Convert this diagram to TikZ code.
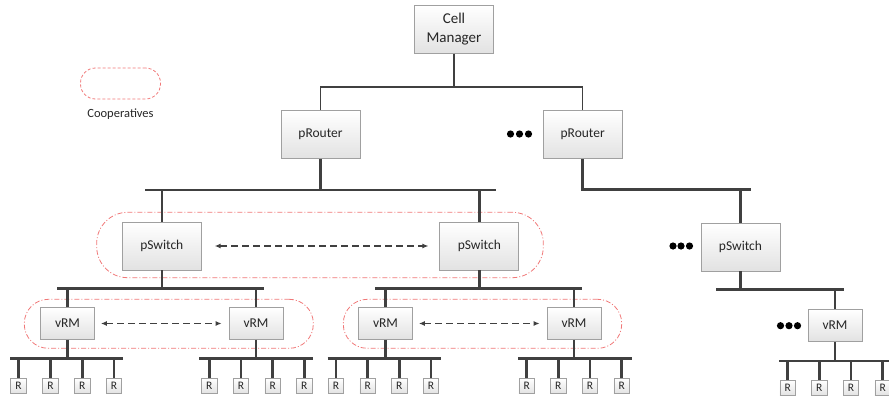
\documentclass[tikz,border=0pt]{standalone}
\usepackage{fontspec}
\setmainfont{Carlito}
\usetikzlibrary{arrows.meta}
\definecolor{linec}{HTML}{404040}
\definecolor{boxb}{HTML}{A0A0A0}
\definecolor{boxlow}{HTML}{E2E2E2}
\definecolor{coopc}{HTML}{F07878}
\tikzset{
  gbox/.style={draw=boxb, line width=0.8pt, top color=white, bottom color=boxlow, inner sep=0pt, font=\fontsize{13.5}{15}\selectfont, text=black!85},
  bigbox/.style={gbox, minimum width=79pt, minimum height=48pt},
  vbox/.style={gbox, minimum width=54pt, minimum height=32pt},
  rbox/.style={gbox, minimum width=15.5pt, minimum height=15.5pt, font=\fontsize{11.5}{12}\selectfont},
  thin/.style={draw=linec, line width=1.3pt},
  thick/.style={draw=linec, line width=2.6pt},
  darr/.style={draw=linec, line width=1.1pt, dash pattern=on 7pt off 4pt, {Latex[length=6pt,width=5pt]}-{Latex[length=6pt,width=5pt]}},
  coop/.style={draw=coopc, line width=0.8pt, dash pattern=on 5pt off 2pt on 1pt off 2pt, inner sep=0pt},
  legcoop/.style={draw=coopc, line width=0.8pt, dash pattern=on 3pt off 2pt, inner sep=0pt},
}
\begin{document}
\begin{tikzpicture}[x=1pt,y=-1pt]
\useasboundingbox (0,0) rectangle (889,399);

% legend
\node[legcoop, rounded corners=15pt, minimum width=80pt, minimum height=31pt] (leg) at (120.5,83.5) {};
\node[font=\fontsize{12.5}{14}\selectfont, text=black!85] (legt) at (120.5,114) {Cooperatives};

% cooperative regions
\node[coop, rounded corners=31pt, minimum width=446.6pt, minimum height=65.4pt] (c1) at (320,245) {};
\node[coop, rounded corners=24pt, minimum width=289pt, minimum height=49pt] (c2) at (168.8,323.8) {};
\node[coop, rounded corners=24pt, minimum width=278.4pt, minimum height=49pt] (c3) at (482.5,323.8) {};

% main boxes
\node[bigbox, font=\fontsize{15}{19}\selectfont, align=center] (cm) at (454,29.3) {Cell\\Manager};
\node[bigbox] (pr1) at (320.5,134.5) {pRouter};
\node[bigbox] (pr2) at (582.7,134.5) {pRouter};
\node[bigbox] (ps1) at (161.8,246) {pSwitch};
\node[bigbox] (ps2) at (479.3,246) {pSwitch};
\node[bigbox] (ps3) at (740.5,247) {pSwitch};
\node[vbox] (v1) at (67.5,323.5) {vRM};
\node[vbox] (v2) at (256,323.5) {vRM};
\node[vbox] (v3) at (385.5,323.5) {vRM};
\node[vbox] (v4) at (574,323.5) {vRM};
\node[vbox] (v5) at (835,325.5) {vRM};

% ellipsis dots
\foreach \x/\y [count=\i] in {510.5/134, 519.5/134, 528.5/134, 673/246, 681/246, 689.5/246, 780.5/325.7, 789/325.7, 797.5/325.7}
  \fill[black] (\x,\y) circle (3.6pt);

% Cell Manager connections
\coordinate (cmb) at (454,87);
\draw[thin] (cm.south) -- (cmb);
\draw[thin] (pr1.north) |- (cmb) -| (pr2.north);

% pRouter 1 bar
\coordinate (b1) at (320.5,190);
\draw[thick] (pr1.south) -- (b1);
\draw[thick] (145,190) -- (496,190);
\draw[thick] (ps1.north) -- (ps1.north |- b1);
\draw[thick] (ps2.north) -- (ps2.north |- b1);

% pRouter 2 bar
\coordinate (b2) at (582.7,189.5);
\draw[thick] (pr2.south) -- (b2) -- (751,189.5);
\draw[thick] (ps3.north) -- (ps3.north |- b2);

% pSwitch bars
\coordinate (b3) at (161.8,288.3);
\draw[thick] (ps1.south) -- (b3);
\draw[thick] (57.3,288.3) -- (264.3,288.3);
\draw[thick] (v1.north) -- (v1.north |- b3);
\draw[thick] (v2.north) -- (v2.north |- b3);

\coordinate (b4) at (479.3,288.3);
\draw[thick] (ps2.south) -- (b4);
\draw[thick] (375,288.3) -- (581.7,288.3);
\draw[thick] (v3.north) -- (v3.north |- b4);
\draw[thick] (v4.north) -- (v4.north |- b4);

\coordinate (b5) at (740.5,289.3);
\draw[thick] (ps3.south) -- (b5);
\draw[thick] (716,289.3) -- (844.3,289.3);
\draw[thick] (v5.north) -- (v5.north |- b5);

% vRM bars and R boxes
\foreach \v/\bl/\br/\by/\ry/\xa/\xb/\xc/\xd in {
  v1/10/123.3/358.3/386/18.5/50.5/82.3/114,
  v2/199.3/312.7/358.3/386/209.3/241/272.7/304.3,
  v3/327.7/440.7/358.3/386/336/367.7/399.3/431,
  v4/518.3/631.7/358.3/386/526.7/558.3/590/621.7,
  v5/779.3/895/361/388/787.7/819.3/851/882.7} {
  \draw[thick] (\v.south) -- (\v.south |- 0,\by);
  \draw[thick] (\bl,\by) -- (\br,\by);
  \foreach \rx [count=\k] in {\xa,\xb,\xc,\xd} {
    \node[rbox] (\v r\k) at (\rx,\ry) {R};
    \draw[thick] (\v r\k.north) -- (\rx,\by);
  }
}

% cooperation arrows
\draw[darr] ([xshift=13pt]ps1.east) -- ([xshift=-11pt]ps2.west);
\draw[darr] ([xshift=6pt]v1.east) -- ([xshift=-7pt]v2.west);
\draw[darr] ([xshift=6pt]v3.east) -- ([xshift=-7pt]v4.west);
\end{tikzpicture}
\end{document}
